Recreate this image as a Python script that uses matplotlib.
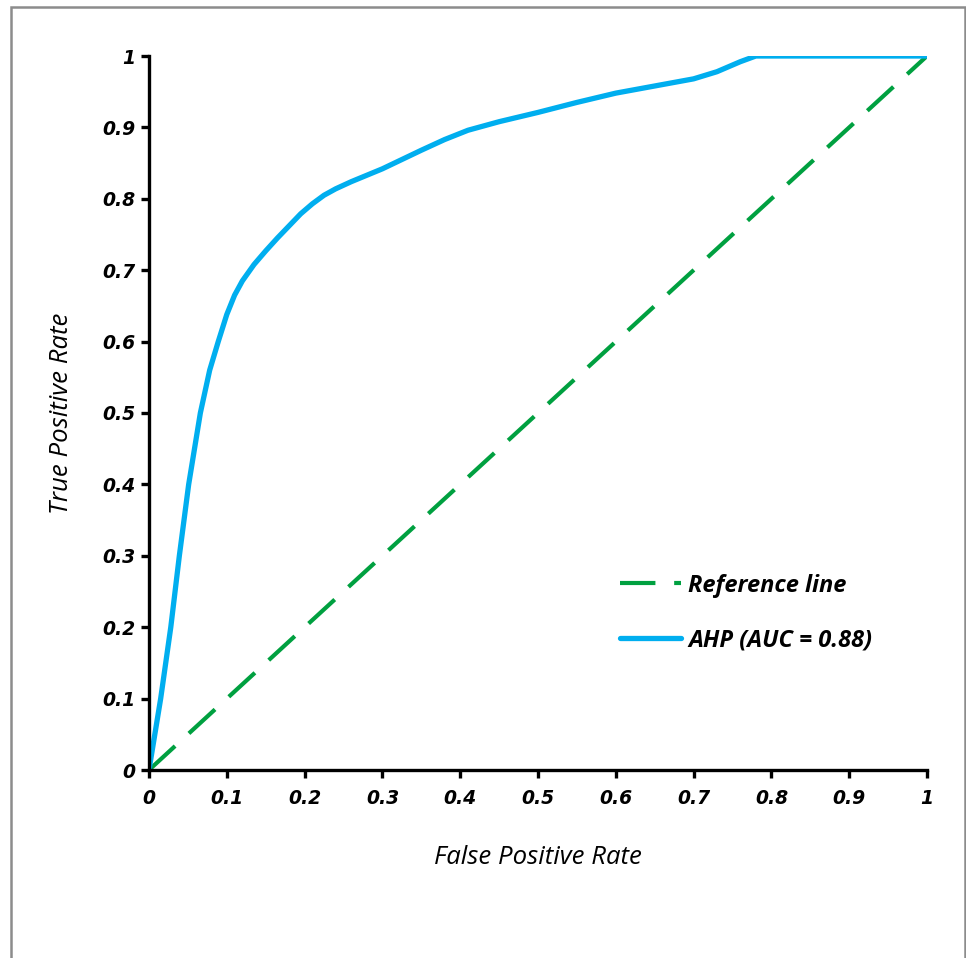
import matplotlib
matplotlib.use("Agg")
import matplotlib.pyplot as plt
from matplotlib.patches import Rectangle

# ROC curve
fpr = [0, 0.015, 0.028, 0.039, 0.051, 0.066, 0.078, 0.089, 0.1, 0.11, 0.12, 0.135,
       0.15, 0.165, 0.18, 0.195, 0.21, 0.225, 0.24, 0.26, 0.28, 0.3, 0.325, 0.35,
       0.38, 0.41, 0.45, 0.5, 0.55, 0.6, 0.65, 0.7, 0.73, 0.76, 0.78, 0.85, 1]
tpr = [0, 0.1, 0.2, 0.3, 0.4, 0.5, 0.56, 0.6, 0.638, 0.665, 0.685, 0.708,
       0.727, 0.745, 0.762, 0.779, 0.793, 0.805, 0.814, 0.824, 0.833, 0.842, 0.855, 0.868,
       0.883, 0.896, 0.908, 0.921, 0.935, 0.948, 0.958, 0.968, 0.978, 0.992, 1.0, 1.0, 1.0]
ref_x = [0, 1]
ref_y = [0, 1]
ticks = [0, 0.1, 0.2, 0.3, 0.4, 0.5, 0.6, 0.7, 0.8, 0.9, 1]

plt.rcParams['font.family'] = ['Open Sans', 'DejaVu Sans']

W, H = 966, 958
fig = plt.figure(figsize=(W / 100, H / 100), dpi=100)
fig.patches.append(Rectangle((11 / W, -0.05), (965 - 11) / W, 1.05 - 7 / H,
                             transform=fig.transFigure, fill=False,
                             edgecolor='#8c8c8c', linewidth=1.8))

ax = fig.add_axes([149 / W, 1 - 770 / H, (927 - 149) / W, (770 - 56) / H])
ax.plot(ref_x, ref_y, color='#00A040', linewidth=3.0, dashes=(8.5, 4.5),
        label='Reference line', solid_capstyle='round')
ax.plot(fpr, tpr, color='#00AEEF', linewidth=3.8, label='AHP (AUC = 0.88)',
        solid_capstyle='round', solid_joinstyle='round')

ax.set_xlim(0, 1)
ax.set_ylim(0, 1)
ax.set_xticks(ticks)
ax.set_yticks(ticks)
ax.set_xticklabels([f"{t:g}" for t in ticks])
ax.set_yticklabels([f"{t:g}" for t in ticks])
for s in ['top', 'right']:
    ax.spines[s].set_visible(False)
for s in ['left', 'bottom']:
    ax.spines[s].set_linewidth(2.4)
ax.tick_params(length=6, width=2.4, direction='out')
ax.tick_params(axis='x', pad=8)
ax.tick_params(axis='y', pad=4)
for lab in ax.get_xticklabels() + ax.get_yticklabels():
    lab.set_family(['DejaVu Sans'])
    lab.set_fontsize(13.5)
    lab.set_fontweight('bold')
    lab.set_fontstyle('italic')

ax.set_xlabel('False Positive Rate', fontsize=18.5, fontstyle='italic', labelpad=26)
ax.set_ylabel('True Positive Rate', fontsize=18.5, fontstyle='italic', labelpad=20)

leg = ax.legend(loc='center left', bbox_to_anchor=(0.59, 0.220), frameon=False,
                borderpad=0, handlelength=2.6, handletextpad=0.3, labelspacing=1.3,
                prop={'size': 17, 'weight': 'bold', 'style': 'italic'})

fig.savefig('out.png', dpi=100)
